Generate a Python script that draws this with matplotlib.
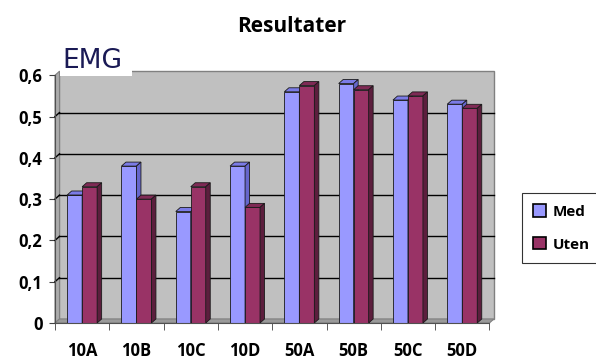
import matplotlib
matplotlib.use("Agg")
import matplotlib.pyplot as plt
from matplotlib.patches import Polygon, Rectangle, Patch

plt.rcParams['font.family'] = ['Open Sans', 'DejaVu Sans']

categories = ["10A", "10B", "10C", "10D", "50A", "50B", "50C", "50D"]
med = [0.31, 0.38, 0.27, 0.38, 0.56, 0.58, 0.54, 0.53]
uten = [0.33, 0.30, 0.33, 0.28, 0.575, 0.565, 0.55, 0.52]
y_ticks = [0, 0.1, 0.2, 0.3, 0.4, 0.5, 0.6]
y_labels = ["0", "0,1", "0,2", "0,3", "0,4", "0,5", "0,6"]

# colours: front, top, side
MED_C = ("#9999FF", "#7B7BE6", "#6666CC")
UTEN_C = ("#993366", "#7F2A55", "#5C1E3D")
EDGE = "#1a1a1a"

# 3d depth offset in data units
DX = 0.083
DY = 0.0097
BW = 0.276

fig = plt.figure(figsize=(5.96, 3.6), dpi=100)
ax = fig.add_axes([45 / 596, 30 / 360, 455 / 596, 270 / 360])
ax.set_xlim(-0.684, 7.695)
ax.set_ylim(-0.017, 0.637)

n = len(categories)
x0, x1 = -0.5, n - 0.5
ytop = y_ticks[-1]

# walls and floor
ax.add_patch(Rectangle((x0 + DX, DY), n, ytop, facecolor="#C0C0C0",
                       edgecolor="#808080", lw=1, zorder=1))
ax.add_patch(Polygon([(x0, 0), (x0 + DX, DY), (x0 + DX, ytop + DY), (x0, ytop)],
                     closed=True, facecolor="#ABABAB", edgecolor="#808080", lw=0.8, zorder=1))
ax.add_patch(Polygon([(x0, 0), (x1, 0), (x1 + DX, DY), (x0 + DX, DY)],
                     closed=True, facecolor="#9A9A9A", edgecolor="#808080", lw=0.8, zorder=1))
for y in y_ticks[1:-1]:
    ax.plot([x0 + DX, x1 + DX], [y + DY, y + DY], color="black", lw=1, zorder=2)
    ax.plot([x0, x0 + DX], [y, y + DY], color="black", lw=1, zorder=2)


def bar3d(xl, h, cols, z):
    front, top, side = cols
    ax.bar(xl, h, width=BW, align="edge", color=front, edgecolor=EDGE, lw=0.6, zorder=z)
    ax.add_patch(Polygon([(xl, h), (xl + BW, h), (xl + BW + DX, h + DY), (xl + DX, h + DY)],
                         closed=True, facecolor=top, edgecolor=EDGE, lw=0.6, zorder=z))
    ax.add_patch(Polygon([(xl + BW, 0), (xl + BW + DX, DY), (xl + BW + DX, h + DY), (xl + BW, h)],
                         closed=True, facecolor=side, edgecolor=EDGE, lw=0.6, zorder=z))


for i in range(n):
    bar3d(i - BW, med[i], MED_C, 3 + 2 * i)
    bar3d(i, uten[i], UTEN_C, 4 + 2 * i)

# axes
for s in ("top", "right"):
    ax.spines[s].set_visible(False)
ax.spines["left"].set_position(("data", x0))
ax.spines["left"].set_bounds(0, ytop)
ax.spines["bottom"].set_position(("data", 0))
ax.spines["bottom"].set_bounds(x0, x1)
for s in ("left", "bottom"):
    ax.spines[s].set_color("#505050")
    ax.spines[s].set_zorder(30)

ax.set_yticks(y_ticks, y_labels, fontsize=12, fontweight="bold")
ax.tick_params(axis="y", direction="out", length=4, color="#404040", pad=5)
ax.set_xticks(range(n), categories, fontsize=12, fontweight="bold")
ax.set_xticks([x0 + k for k in range(n + 1)], minor=True)
ax.tick_params(axis="x", which="major", length=0, pad=14)
ax.tick_params(axis="x", which="minor", direction="out", length=5, color="#404040")

# title and EMG label
fig.text(292 / 596, 1 - 26 / 360, "Resultater", ha="center", va="center",
         fontsize=15, fontweight="bold")
fig.patches.append(Rectangle((60 / 596, 1 - 76 / 360), 72 / 596, 28 / 360,
                             transform=fig.transFigure, facecolor="white",
                             edgecolor="none", zorder=2))
fig.text(62 / 596, 1 - 61 / 360, "EMG", ha="left", va="center", fontsize=19,
         color="#1a1a55", family="DejaVu Sans", zorder=3)

handles = [Patch(facecolor=MED_C[0], edgecolor="black", lw=1.2, label="Med"),
           Patch(facecolor=UTEN_C[0], edgecolor="black", lw=1.2, label="Uten")]
leg = fig.legend(handles=handles, loc="upper left", bbox_to_anchor=(522 / 596, 1 - 193 / 360),
                 frameon=True, fancybox=False, edgecolor="black", handlelength=0.85,
                 handleheight=0.85, handletextpad=0.4, labelspacing=1.2, borderpad=0.75,
                 borderaxespad=0, prop={"weight": "bold", "size": 11})
leg.get_frame().set_linewidth(0.8)

fig.savefig("out.png", dpi=100)
